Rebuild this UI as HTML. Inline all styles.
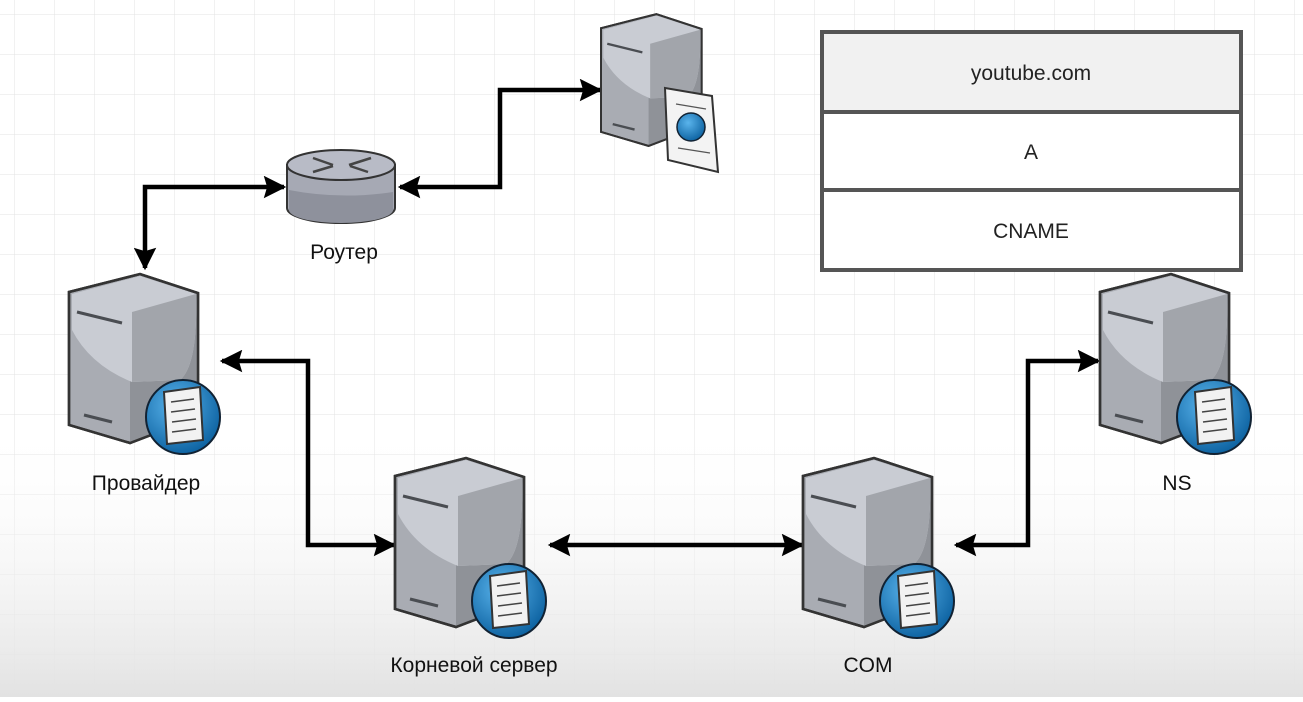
<!DOCTYPE html>
<html><head><meta charset="utf-8"><style>
html,body{margin:0;padding:0;}
body{width:1303px;height:697px;overflow:hidden;font-family:"Liberation Sans",sans-serif;}
</style></head><body>
<svg width="1303" height="697" viewBox="0 0 1303 697" xmlns="http://www.w3.org/2000/svg">
<defs>
<pattern id="grid" width="40" height="40" patternUnits="userSpaceOnUse" x="14" y="14">
<path d="M40 0H0V40" fill="none" stroke="#e3e3e3" stroke-width="1"/>
</pattern>
<linearGradient id="bg" x1="0" y1="0" x2="0" y2="1">
<stop offset="0" stop-color="#fff" stop-opacity="0"/>
<stop offset="1" stop-color="#e2e2e2" stop-opacity="1"/>
</linearGradient>
<radialGradient id="glb" cx="0.4" cy="0.35" r="0.7">
<stop offset="0" stop-color="#5ab4ec"/><stop offset="1" stop-color="#0a5f9e"/>
</radialGradient>
<g id="srv">
<polygon points="9,22 80,4 138,23 138,147 70,173 9,155" fill="#a9acb3" stroke="#333" stroke-width="2.5"/>
<polygon points="70,40 138,23 138,147 70,173" fill="#8f9298"/>
<path d="M12,24 L80,6 L136,24 Q138,95 120,110 L72,112 Q30,95 12,60 Z" fill="#c9ccd3"/>
<path d="M72,42 L136,24 Q138,95 120,110 L72,112 Z" fill="#a2a5ab"/>
<polygon points="9,22 80,4 138,23 138,147 70,173 9,155" fill="none" stroke="#333" stroke-width="2.5"/>
<line x1="17" y1="42" x2="62" y2="53" stroke="#4a4d52" stroke-width="3"/>
<line x1="24" y1="145" x2="52" y2="152" stroke="#4a4d52" stroke-width="3"/>
</g>
<g id="glob">
<circle cx="123" cy="147" r="37" fill="url(#glb)" stroke="#123" stroke-width="2"/>
<polygon points="104,122 140,117 143,170 107,174" fill="#f2f2f2" stroke="#333" stroke-width="2"/>
<g stroke="#444" stroke-width="1.6"><line x1="111" y1="132" x2="134" y2="129"/><line x1="111" y1="142" x2="135" y2="139"/><line x1="112" y1="152" x2="136" y2="149"/><line x1="112" y1="162" x2="136" y2="159"/></g>
</g>
<marker id="ah" viewBox="0 0 10 10" refX="9" refY="5" markerWidth="6" markerHeight="5" orient="auto-start-reverse" markerUnits="strokeWidth"><path d="M0,0 L10,5 L0,10 L1.5,5Z" fill="#000"/></marker>
</defs>
<rect width="1303" height="697" fill="#fff"/>
<rect width="1303" height="697" fill="url(#grid)"/>
<rect y="420" width="1303" height="277" fill="url(#bg)"/>

<g fill="none" stroke="#000" stroke-width="4.5" marker-start="url(#ah)" marker-end="url(#ah)">
<polyline points="145,268 145,187 284,187"/>
<polyline points="400,187 500,187 500,90 600,90"/>
<polyline points="222,361 308,361 308,545 394,545"/>
<polyline points="550,545 802,545"/>
<polyline points="956,545 1028,545 1028,361 1098,361"/>
</g>

<path d="M287,165 L287,208 A54,15 0 0 0 395,208 L395,165 Z" fill="#a6a9b4" stroke="#333" stroke-width="2"/>
<path d="M289,190 Q340,200 393,192 L393,210 A52,13 0 0 1 289,210 Z" fill="#8e919c"/>
<ellipse cx="341" cy="165" rx="54" ry="15" fill="#b8bbc6" stroke="#333" stroke-width="2"/>
<g stroke="#444" stroke-width="2.5" fill="none"><line x1="313" y1="158" x2="333" y2="165"/><line x1="349" y1="165" x2="371" y2="158"/><line x1="313" y1="172" x2="333" y2="166"/><line x1="350" y1="166" x2="368" y2="172"/></g>

<g transform="translate(60,270)"><use href="#srv"/><use href="#glob"/></g>
<g transform="translate(386,454)"><use href="#srv"/><use href="#glob"/></g>
<g transform="translate(794,454)"><use href="#srv"/><use href="#glob"/></g>
<g transform="translate(1091,270)"><use href="#srv"/><use href="#glob"/></g>
<g transform="translate(594,11) scale(0.78)"><use href="#srv"/></g>
<polygon points="665,88 712,96 718,172 668,160" fill="#f3f3f3" stroke="#333" stroke-width="2"/>
<circle cx="691" cy="127" r="14" fill="url(#glb)" stroke="#123" stroke-width="1.5"/>
<g stroke="#555" stroke-width="1.3"><line x1="676" y1="104" x2="706" y2="109"/><line x1="678" y1="148" x2="710" y2="153"/></g>

<g font-family="Liberation Sans, sans-serif" font-size="21" fill="#111" text-anchor="middle">
<text x="344" y="259">Роутер</text>
<text x="146" y="490">Провайдер</text>
<text x="474" y="672">Корневой сервер</text>
<text x="868" y="672">COM</text>
<text x="1177" y="490">NS</text>
</g>

<rect x="822" y="32" width="419" height="80" fill="#f1f1f1"/>
<rect x="822" y="112" width="419" height="158" fill="#fff"/>
<g fill="none" stroke="#555" stroke-width="4">
<rect x="822" y="32" width="419" height="238"/>
<line x1="822" y1="112" x2="1241" y2="112"/>
<line x1="822" y1="190" x2="1241" y2="190"/>
</g>
<g font-family="Liberation Sans, sans-serif" font-size="21" fill="#222" text-anchor="middle">
<text x="1031" y="80">youtube.com</text>
<text x="1031" y="159">A</text>
<text x="1031" y="238">CNAME</text>
</g>
</svg>
</body></html>
